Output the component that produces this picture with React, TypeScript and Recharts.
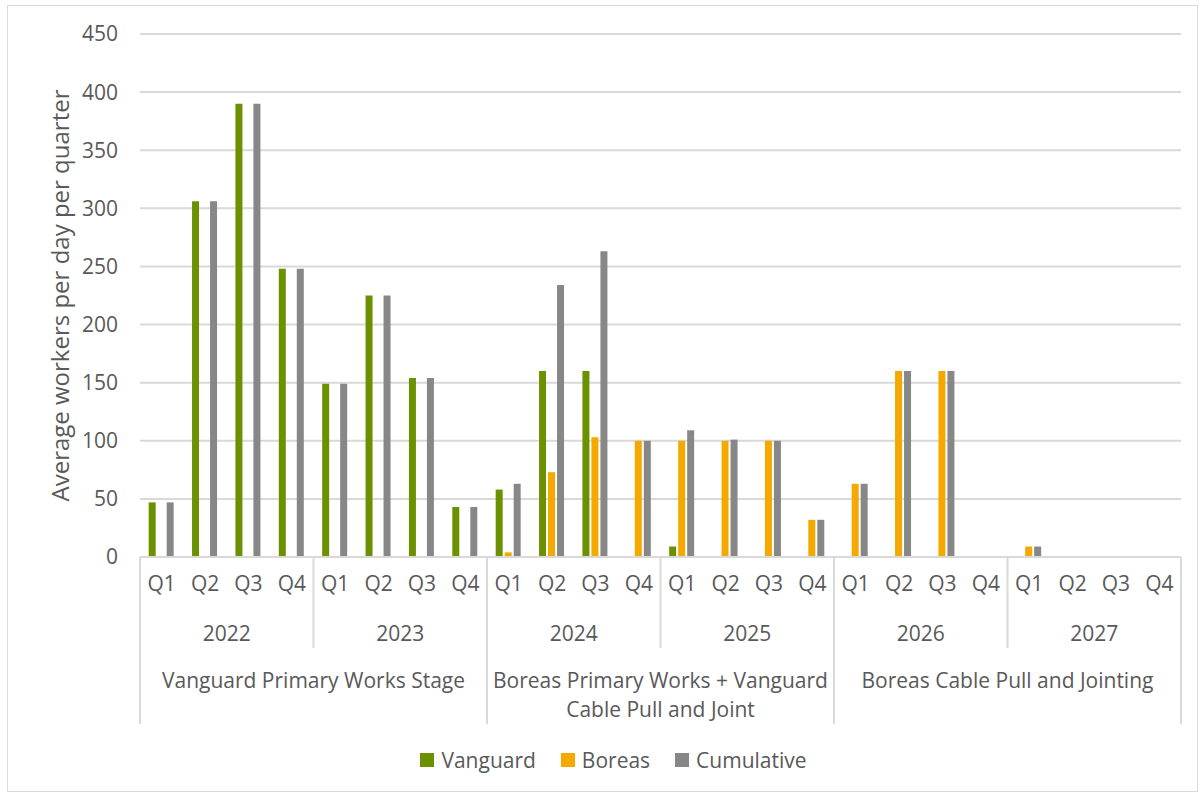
import React from "react";
import { BarChart, Bar, XAxis, YAxis, CartesianGrid, Legend } from "recharts";

const years = ["2022", "2023", "2024", "2025", "2026", "2027"];
const quarters = ["Q1", "Q2", "Q3", "Q4"];
const stages = [
  ["Vanguard Primary Works Stage"],
  ["Boreas Primary Works + Vanguard", "Cable Pull and Joint"],
  ["Boreas Cable Pull and Jointing"],
];
const vanguard = [47, 306, 390, 248, 149, 225, 154, 43, 58, 160, 160, 0, 9, 0, 0, 0, 0, 0, 0, 0, 0, 0, 0, 0];
const boreas = [0, 0, 0, 0, 0, 0, 0, 0, 4, 73, 103, 100, 100, 100, 100, 32, 63, 160, 160, 0, 9, 0, 0, 0];
const cumulative = [47, 306, 390, 248, 149, 225, 154, 43, 63, 234, 263, 100, 109, 101, 100, 32, 63, 160, 160, 0, 9, 0, 0, 0];
const yTicks = [0, 50, 100, 150, 200, 250, 300, 350, 400, 450];

const series = [
  { key: "vanguard", name: "Vanguard", color: "#6B9100" },
  { key: "boreas", name: "Boreas", color: "#F5A800" },
  { key: "cumulative", name: "Cumulative", color: "#878787" },
];

const data = vanguard.map((v, i) => ({
  label: quarters[i % 4] + "-" + years[Math.floor(i / 4)],
  quarter: quarters[i % 4],
  vanguard: v,
  boreas: boreas[i],
  cumulative: cumulative[i],
}));

const W = 1189;
const H = 785;
const margin = { top: 28, right: 16, left: 72, bottom: 26 };
const yAxisWidth = 60;
const band = (W - margin.left - margin.right - yAxisWidth) / data.length;
const font = "'Open Sans', sans-serif";
const fs = 21;
const textColor = "#595959";
const lineColor = "#d9d9d9";

function MultiTick(props: any) {
  const { x, y, payload } = props;
  const i = payload.index ?? props.index;
  const left = x - band / 2;
  const items: React.ReactNode[] = [];
  items.push(
    <text key="q" x={x} y={y + 26} textAnchor="middle" dominantBaseline="central" fill={textColor} fontSize={fs} fontFamily={font}>
      {data[i].quarter}
    </text>
  );
  if (i % 4 === 0) {
    items.push(
      <text key="y" x={left + band * 2} y={y + 76} textAnchor="middle" dominantBaseline="central" fill={textColor} fontSize={fs} fontFamily={font}>
        {years[i / 4]}
      </text>
    );
    items.push(
      <line key="s" x1={left} x2={left} y1={y} y2={y + (i % 8 === 0 ? 167 : 91)} stroke={lineColor} strokeWidth={2} />
    );
  }
  if (i % 8 === 0) {
    const lines = stages[i / 8];
    lines.forEach((t, k) => {
      items.push(
        <text key={"g" + k} x={left + band * 4} y={y + 123 + k * 29} textAnchor="middle" dominantBaseline="central" fill={textColor} fontSize={fs} fontFamily={font}>
          {t}
        </text>
      );
    });
  }
  if (i === data.length - 1) {
    items.push(<line key="e" x1={x + band / 2} x2={x + band / 2} y1={y} y2={y + 167} stroke={lineColor} strokeWidth={2} />);
  }
  return <g>{items}</g>;
}

function LegendContent() {
  return (
    <div style={{ display: "flex", justifyContent: "center", gap: 25, paddingLeft: 22, fontFamily: font, fontSize: fs, color: textColor }}>
      {series.map((s) => (
        <div key={s.key} style={{ display: "flex", alignItems: "center", gap: 7 }}>
          <span style={{ width: 14, height: 14, background: s.color, display: "inline-block" }} />
          <span>{s.name}</span>
        </div>
      ))}
    </div>
  );
}

export default function App() {
  return (
    <div style={{ position: "absolute", left: 7, top: 5, width: W, height: H, border: "1px solid #d9d9d9", background: "#fff" }}>
      <BarChart width={W} height={H} data={data} margin={margin} barGap={2} barCategoryGap="20%">
        <CartesianGrid vertical={false} stroke={lineColor} strokeWidth={2} />
        <XAxis
          dataKey="label"
          interval={0}
          tickLine={false}
          tickSize={0}
          tickMargin={0}
          axisLine={{ stroke: lineColor, strokeWidth: 2 }}
          height={180}
          tick={<MultiTick />}
        />
        <YAxis
          width={yAxisWidth}
          domain={[0, 450]}
          ticks={yTicks}
          axisLine={false}
          tickLine={false}
          tickSize={0}
          tickMargin={22}
          tick={{ fill: textColor, fontSize: fs, fontFamily: font }}
          label={{
            value: "Average workers per day per quarter",
            angle: -90,
            position: "insideLeft",
            offset: -20,
            style: { textAnchor: "middle", fill: textColor, fontSize: 24, fontFamily: font },
          }}
        />
        <Legend
          verticalAlign="bottom"
          content={<LegendContent />}
          wrapperStyle={{ left: 0, width: W, bottom: 17 }}
        />
        {series.map((s) => (
          <Bar key={s.key} dataKey={s.key} name={s.name} fill={s.color} isAnimationActive={false} />
        ))}
      </BarChart>
    </div>
  );
}
